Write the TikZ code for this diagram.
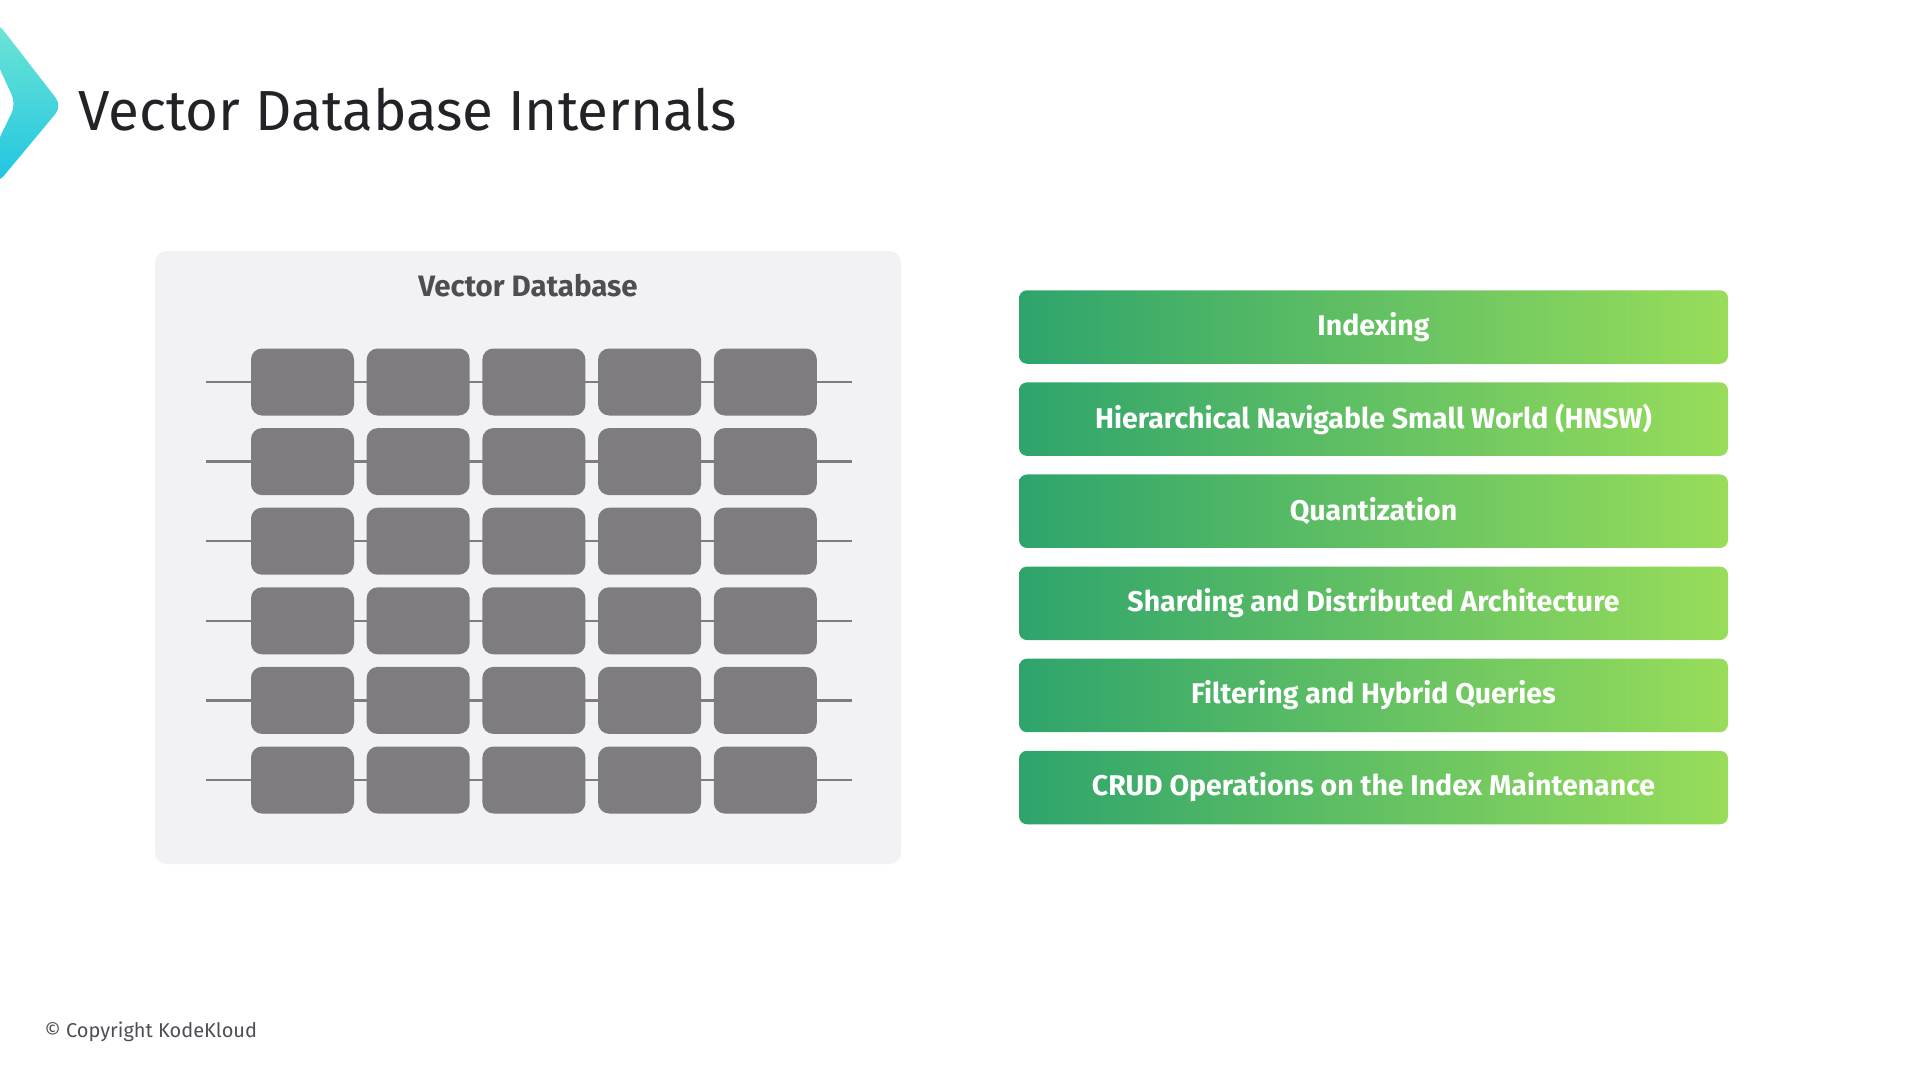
\documentclass[tikz,border=0pt]{standalone}
\usepackage{fontspec}
\setmainfont{Fira Sans}
\usepackage{xcolor}
\usepackage{tikz}
\definecolor{ink}{HTML}{232226}
\definecolor{muted}{HTML}{4F4D53}
\definecolor{panelbg}{HTML}{F2F1F3}
\definecolor{cell}{HTML}{7E7C81}
\definecolor{greenA}{HTML}{2EA46C}
\definecolor{greenM}{HTML}{72CA69}
\definecolor{greenB}{HTML}{98DD5A}
\definecolor{logoA}{HTML}{6FE5D4}
\definecolor{logoB}{HTML}{1EC5E2}
\tikzset{
  panel/.style={fill=panelbg, rounded corners=12pt, minimum width=746pt, minimum height=613pt, inner sep=0pt},
  cellbox/.style={fill=cell, rounded corners=11pt, minimum width=103pt, minimum height=67pt, inner sep=0pt},
  rail/.style={draw=cell, line width=2.5pt},
  topic/.style={left color=greenA, middle color=greenM, right color=greenB, rounded corners=8pt, minimum width=709pt, minimum height=73.5pt, inner sep=0pt, text=white, font=\fontsize{28.5}{34}\selectfont\bfseries},
  heading/.style={text=ink, font=\fontsize{56.5}{66}\selectfont},
  lab/.style={text=muted, font=\fontsize{29.5}{35}\selectfont\bfseries},
  foot/.style={text=muted, font=\fontsize{20}{24}\selectfont},
}

\begin{document}
\begin{tikzpicture}[x=1pt,y=-1pt]
  \useasboundingbox (0,0) rectangle (1920,1080);
  % logo and title
  \shade[top color=logoA, bottom color=logoB, rounded corners=10pt]
    (-3,22) -- (62,106) -- (-3,184) -- (-3,143) -- (16,104) -- (-3,63) -- cycle;
  \node[heading, anchor=base west] (title) at (75,130) {Vector Database Internals};
  % database panel
  \node[panel] (db) at (528,557.5) {};
  \node[lab] (dblabel) at (528,286) {Vector Database};
  \foreach \r in {0,...,5} {
    \coordinate (L\r) at (206,382+79.6*\r);
    \coordinate (R\r) at (852,382+79.6*\r);
    \draw[rail] (L\r) -- (R\r);
    \foreach \c in {0,...,4}
      \node[cellbox] (c\r\c) at (302.5+115.7*\c,382+79.6*\r) {};
  }
  % topics
  \foreach \t [count=\i from 0] in {{Indexing},
      {Hierarchical Navigable Small World (HNSW)},
      {Quantization},
      {Sharding and Distributed Architecture},
      {Filtering and Hybrid Queries},
      {CRUD Operations on the Index Maintenance}}
    \node[topic] (t\i) at (1373.5,327+92.1*\i) {\t};
  \node[foot, anchor=west] (copy) at (41,1032) {© Copyright KodeKloud};
\end{tikzpicture}
\end{document}
